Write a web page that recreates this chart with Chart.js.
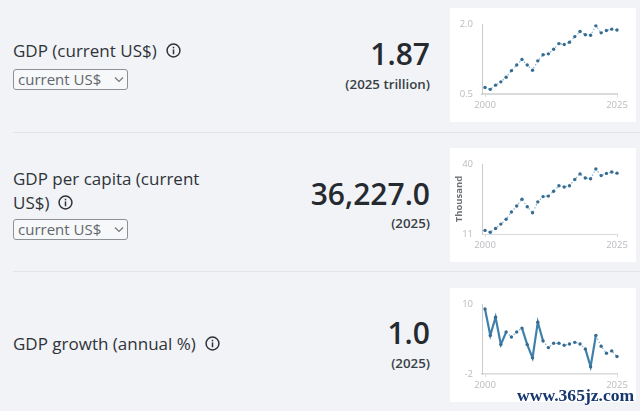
<!DOCTYPE html>
<html>
<head>
<meta charset="utf-8">
<script src="https://cdn.jsdelivr.net/npm/chart.js@4/dist/chart.umd.min.js"></script>
<style>
  html, body { margin: 0; padding: 0; }
  body { width: 640px; height: 411px; overflow: hidden; position: relative; background: #f1f3f7; font-family: "Open Sans", sans-serif; color: #2f3338; }
  .abs { position: absolute; }
  .name { left: 13px; font-size: 17px; line-height: 24px; width: 215px; }
  .info { display: inline-block; vertical-align: -1px; margin-left: 9px; }
  .unit { left: 13px; width: 115px; height: 21px; box-sizing: border-box; border: 1px solid #8d9196; border-radius: 3px; background: #f7f8fa; font-size: 15px; line-height: 19px; padding-left: 4px; color: #62666b; }
  .unit svg { position: absolute; right: 3px; top: 6px; }
  .big { right: 210px; font-size: 30px; font-weight: 600; line-height: 36px; color: #252a30; white-space: nowrap; }
  .year { right: 210px; font-size: 13.3px; font-weight: 600; line-height: 16px; color: #3a3f45; white-space: nowrap; }
  .rule { left: 13px; width: 627px; height: 1px; background: #e2e4e8; }
  .card { left: 450px; width: 186px; height: 114px; background: #fff; }
  .card canvas { position: absolute; left: 0; top: 0; }
  .mark { left: 517px; top: 385px; font-family: "Liberation Serif", serif; font-weight: 700; font-size: 17.6px; line-height: 20px; color: #17386e; text-shadow: 0 0 2px #fff, 0 0 2px #fff; white-space: nowrap; }
</style>
</head>
<body>
<svg width="0" height="0" style="position:absolute">
  <symbol id="i" viewBox="0 0 14 14">
    <circle cx="7" cy="7" r="6" fill="none" stroke="#2f3338" stroke-width="1.4"/>
    <rect x="6.3" y="6" width="1.4" height="4.5" fill="#2f3338"/>
    <rect x="6.3" y="3.5" width="1.4" height="1.5" fill="#2f3338"/>
  </symbol>
  <symbol id="v" viewBox="0 0 10 7">
    <path d="M1 1.5 L5 5.5 L9 1.5" fill="none" stroke="#777" stroke-width="1.2"/>
  </symbol>
</svg>

<div class="abs name" style="top:39px">GDP (current US$)<svg class="info" width="15" height="15"><use href="#i"/></svg></div>
<div class="abs unit" style="top:69px">current US$<svg width="10" height="7"><use href="#v"/></svg></div>
<div class="abs big" style="top:36px">1.87</div>
<div class="abs year" style="top:76px">(2025 trillion)</div>
<div class="abs card" style="top:8px"><canvas id="gdp" width="186" height="114"></canvas></div>

<div class="abs rule" style="top:132px"></div>

<div class="abs name" style="top:167px">GDP per capita (current US$)<svg class="info" width="15" height="15"><use href="#i"/></svg></div>
<div class="abs unit" style="top:219px">current US$<svg width="10" height="7"><use href="#v"/></svg></div>
<div class="abs big" style="top:176px">36,227.0</div>
<div class="abs year" style="top:215px">(2025)</div>
<div class="abs card" style="top:148px"><canvas id="perCapita" width="186" height="114"></canvas></div>

<div class="abs rule" style="top:271px"></div>

<div class="abs name" style="top:332px">GDP growth (annual %)<svg class="info" width="15" height="15"><use href="#i"/></svg></div>
<div class="abs big" style="top:315px">1.0</div>
<div class="abs year" style="top:355px">(2025)</div>
<div class="abs card" style="top:288px"><canvas id="growth" width="186" height="114"></canvas></div>

<div class="abs mark">www.365jz.com</div>

<script>
const years = [2000, 2001, 2002, 2003, 2004, 2005, 2006, 2007, 2008, 2009, 2010, 2011, 2012,
  2013, 2014, 2015, 2016, 2017, 2018, 2019, 2020, 2021, 2022, 2023, 2024, 2025];
const gdpValues = [0.64, 0.6, 0.69, 0.76, 0.86, 1.0, 1.12, 1.24, 1.12, 1.01, 1.21, 1.34, 1.36,
  1.46, 1.58, 1.56, 1.61, 1.73, 1.84, 1.77, 1.76, 1.96, 1.81, 1.86, 1.89, 1.87];
const perCapitaValues = [12.5, 11.7, 13.3, 15.1, 17.1, 20.1, 22.6, 25.4, 22.3, 19.8, 24.3, 26.5, 26.7,
  28.7, 31.0, 30.5, 31.0, 33.6, 35.9, 34.2, 33.9, 37.9, 35.2, 36.1, 36.7, 36.2];
const growthValues = [9.15, 4.62, 7.74, 3.04, 5.19, 4.34, 5.19, 5.87, 3.04, 0.77, 6.89, 3.66, 2.53,
  3.26, 3.26, 2.92, 3.15, 3.43, 3.15, 2.3, -0.75, 4.62, 2.75, 1.57, 1.96, 1.0];
const xTicks = [2000, 2025];
const gdpTicks = [0.5, 2];
const perCapitaTicks = [11, 40];
const growthTicks = [-2, 10];

const GREY = "#b9bbbe";

function sparkline(id, values, yTicks, opts) {
  opts = opts || {};
  const steep = (c) => Math.abs(c.p1.parsed.y - c.p0.parsed.y) > (opts.steep || 99);
  new Chart(document.getElementById(id), {
    type: "line",
    data: {
      labels: years,
      datasets: [{
        data: years.map((y, i) => ({ x: y, y: values[i] })),
        borderColor: "#86b5d4",
        borderWidth: 1.2,
        borderDash: [1.5, 2],
        pointRadius: 1.7,
        pointBackgroundColor: "#356c90",
        pointBorderWidth: 0,
        clip: false,
        segment: {
          // the steep stretches read as a solid line
          borderDash: (c) => steep(c) ? [] : undefined,
          borderWidth: (c) => steep(c) ? 2.2 : undefined,
          borderColor: (c) => steep(c) ? "#3f80ab" : undefined,
        },
      }],
    },
    options: {
      responsive: false,
      animation: false,
      layout: { padding: { top: 16, right: 19, left: 0, bottom: 0 } },
      plugins: { legend: { display: false }, tooltip: { enabled: false } },
      scales: {
        x: {
          type: "linear",
          min: 1999.43,
          max: 2025,
          afterBuildTicks: (s) => { s.ticks = xTicks.map((v) => ({ value: v })); },
          afterFit: (s) => { s.height = 28; },
          border: { color: "#d9dadc", width: opts.xWidth || 1.5 },
          grid: { drawOnChartArea: false, tickLength: 3, color: "#d9dadc" },
          ticks: {
            color: GREY, padding: 3, maxRotation: 0, autoSkip: false,
            font: { family: "Open Sans", size: 9.5 },
            callback: (v) => String(v),
          },
        },
        y: {
          min: yTicks[0],
          max: yTicks[1],
          afterBuildTicks: (s) => { s.ticks = yTicks.map((v) => ({ value: v })); },
          afterFit: (s) => { s.width = 32; },
          border: { color: "#c9cacc", width: 1 },
          grid: { display: false },
          title: {
            display: !!opts.title, text: opts.title, color: "#6e7175", padding: { top: 4, bottom: 0 },
            font: { family: "Open Sans", size: 9.5, weight: "700" },
          },
          ticks: {
            color: GREY, padding: 1,
            font: { family: "Open Sans", size: 9.5 },
            callback: (v) => opts.fixed ? v.toFixed(1) : String(v),
          },
        },
      },
    },
  });
}

sparkline("gdp", gdpValues, gdpTicks, { fixed: true, xWidth: 2 });
sparkline("perCapita", perCapitaValues, perCapitaTicks, { title: "Thousand", xWidth: 1 });
sparkline("growth", growthValues, growthTicks, { steep: 1.95, xWidth: 1.5 });
</script>
</body>
</html>
